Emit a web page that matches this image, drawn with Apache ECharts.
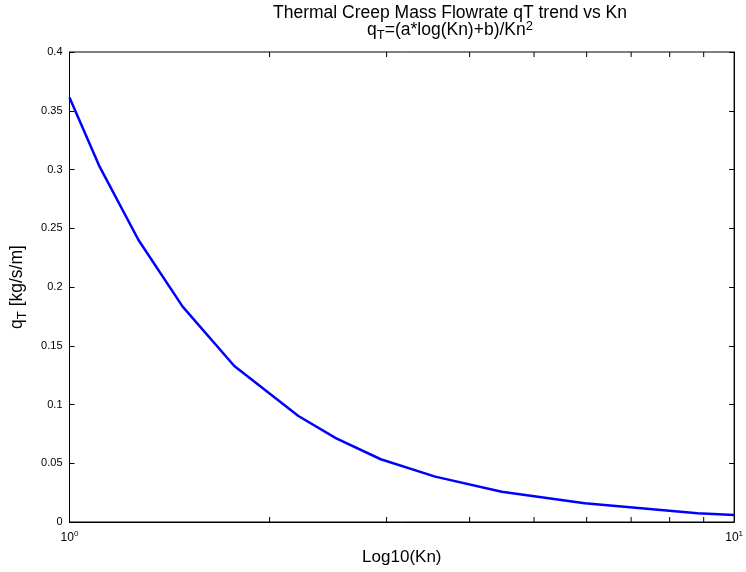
<!DOCTYPE html>
<html>
<head>
<meta charset="utf-8">
<script src="https://cdn.jsdelivr.net/npm/echarts@6/dist/echarts.min.js"></script>
<style>
    html, body { margin: 0; padding: 0; background: #fff; }
    #chart { width: 746px; height: 572px; }
</style>
</head>
<body>
<div id="chart"></div>
<script>
// Kn values (log axis) and qT
const kn = [1, 1.11, 1.27, 1.48, 1.77, 2.21, 2.52, 2.94, 3.55, 4.47, 5.96, 8.81, 10]
const qT = [0.3613, 0.3024, 0.240, 0.1833, 0.1328, 0.0902, 0.0712, 0.0534, 0.0386, 0.0258, 0.0159, 0.0074, 0.006]
const minorTicks = [2, 3, 4, 5, 6, 7, 8, 9]

const font = 'Liberation Sans, Arial, Helvetica, sans-serif'
const chart = echarts.init(document.getElementById('chart'))

chart.setOption({
    animation: false,
    backgroundColor: '#fff',
    textStyle: { fontFamily: font },
    title: {
        left: 445,
        textAlign: 'center',
        top: 0,
        text: '{t|Thermal Creep Mass Flowrate qT trend vs Kn}\n{t|q}{sub|T}{t|=(a*log(Kn)+b)/Kn}{sup|2}',
        textStyle: {
            fontWeight: 'normal',
            rich: {
                t: { fontSize: 17.5, fontFamily: font, color: '#000', lineHeight: 17 },
                sub: { fontSize: 13, fontFamily: font, color: '#000', padding: [10, 0, 0, 0], lineHeight: 17 },
                sup: { fontSize: 13, fontFamily: font, color: '#000', padding: [0, 0, 9, 0], lineHeight: 17 }
            }
        }
    },
    grid: {
        left: 68,
        right: 9,
        top: 52,
        bottom: 50,
        show: true,
        borderColor: '#000',
        borderWidth: 1
    },
    xAxis: [{
        type: 'log',
        logBase: 10,
        min: 1,
        max: 10,
        name: 'Log10(Kn)',
        nameLocation: 'middle',
        nameGap: 23,
        nameTextStyle: { fontSize: 17, color: '#000', fontFamily: font },
        axisLine: { lineStyle: { color: '#000' } },
        axisTick: { show: false },
        splitLine: { show: false },
        axisLabel: {
            color: '#000',
            margin: 8,
            formatter: v => '{b|10}{s|' + Math.round(Math.log10(v)) + '}',
            rich: {
                b: { fontSize: 12, fontFamily: font, color: '#000' },
                s: { fontSize: 8, fontFamily: font, color: '#000', padding: [0, 0, 8, 0] }
            }
        }
    }],
    yAxis: [{
        type: 'value',
        min: 0,
        max: 0.4,
        interval: 0.05,
        name: '{t|q}{s|T}{t| [kg/s/m]}',
        nameLocation: 'middle',
        nameGap: 41,
        nameRotate: 90,
        nameTextStyle: {
            rich: {
                t: { fontSize: 17.5, fontFamily: font, color: '#000' },
                s: { fontSize: 13, fontFamily: font, color: '#000', padding: [10, 0, 0, 0] }
            }
        },
        axisLine: { show: true, lineStyle: { color: '#000' } },
        axisTick: { show: true, inside: true, length: 5, lineStyle: { color: '#000' } },
        splitLine: { show: false },
        axisLabel: { color: '#000', fontSize: 11, margin: 7 }
    }, {
        type: 'value',
        position: 'right',
        min: 0,
        max: 0.4,
        interval: 0.05,
        axisLine: { show: true, lineStyle: { color: '#000' } },
        axisTick: { show: true, inside: true, length: 5, lineStyle: { color: '#000' } },
        splitLine: { show: false },
        axisLabel: { show: false }
    }],
    series: [{
        type: 'line',
        data: kn.map((k, i) => [k, qT[i]]),
        showSymbol: false,
        lineStyle: { color: '#0000ff', width: 2.5 },
        z: 3
    }, {
        type: 'custom',
        silent: true,
        data: minorTicks.map(m => [m, 0]),
        renderItem: (params, api) => {
            const bottom = api.coord([api.value(0), 0])
            const top = api.coord([api.value(0), 0.4])
            const style = { stroke: '#000', lineWidth: 1 }
            return {
                type: 'group',
                children: [{
                    type: 'line',
                    shape: { x1: bottom[0], y1: bottom[1], x2: bottom[0], y2: bottom[1] - 5 },
                    style: style
                }, {
                    type: 'line',
                    shape: { x1: top[0], y1: top[1], x2: top[0], y2: top[1] + 5 },
                    style: style
                }]
            }
        },
        z: 4
    }]
})
</script>
</body>
</html>
